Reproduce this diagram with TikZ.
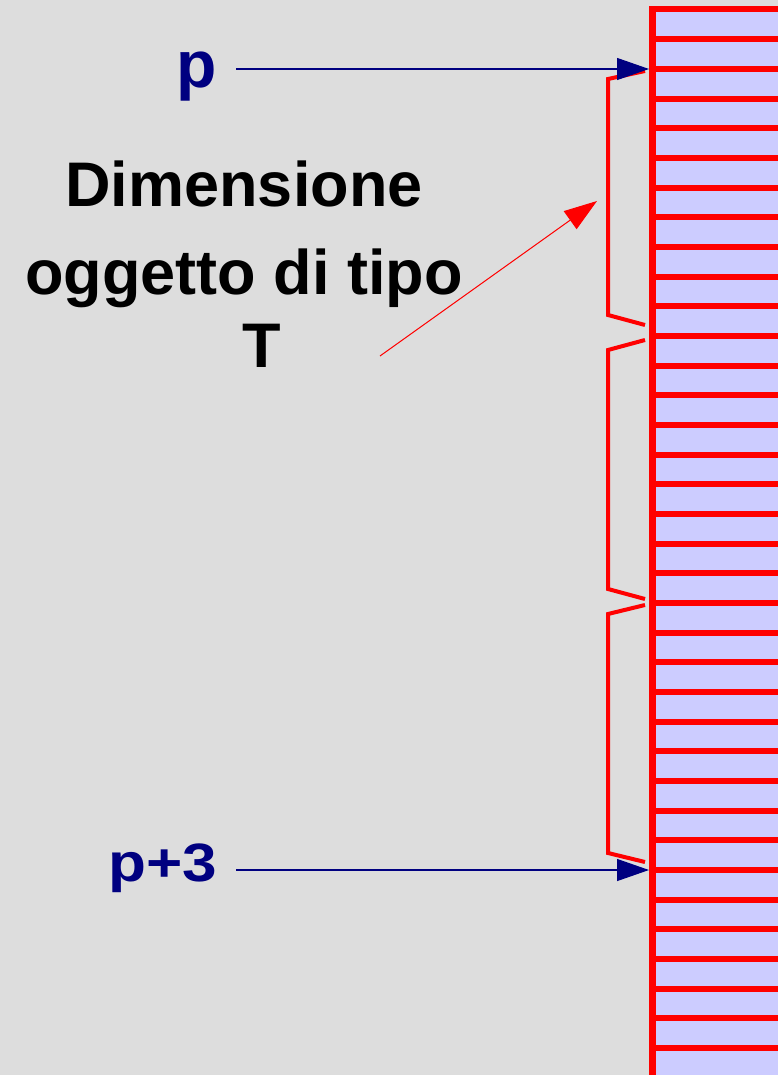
\documentclass[tikz,border=0pt]{standalone}
\usepackage{fontspec}
\setmainfont{Liberation Sans}
\usepackage{graphicx}
\usetikzlibrary{arrows.meta}
\definecolor{slidebg}{RGB}{221,221,221}
\definecolor{cellfill}{RGB}{204,204,255}
\definecolor{ptrblue}{RGB}{0,0,128}
\definecolor{memred}{RGB}{255,0,0}

\begin{document}
\begin{tikzpicture}[x=1pt, y=-1pt,
    ptr/.style={ptrblue, line width=1.2pt, -{Triangle[length=32pt, width=22pt]}},
    sizearrow/.style={memred, line width=1pt, -{Triangle[length=33pt, width=22pt]}},
    objbrace/.style={memred, line width=4pt, line join=miter},
    ptrlabel/.style={text=ptrblue, inner sep=0pt, anchor=base east}]

    % sfondo
    \fill[slidebg] (0,0) rectangle (778,1075);
    \useasboundingbox (0,0) rectangle (778,1075);

    % celle di memoria
    \begin{scope}
        \clip (0,0) rectangle (778,1075);
        \fill[cellfill] (652,9.5) rectangle (800,1090);
        \foreach \i in {0,...,36} {
            \draw[memred, line width=6pt] (649.3,9.5+29.67*\i) -- (800,9.5+29.67*\i);
        }
        \draw[memred, line width=6.5pt] (652.6,6.5) -- (652.6,1090);
    \end{scope}

    % graffe (un oggetto = 9 celle)
    \foreach \ya/\yb/\yc/\yd in {71/79/315/325, 340/350/589/599, 605/614/853/862} {
        \draw[objbrace] (645,\ya) -- (608,\yb) -- (608,\yc) -- (645,\yd);
    }

    % puntatori
    \coordinate (ptrp) at (649,69);
    \coordinate (ptrp3) at (649,870);
    \node[ptrlabel, font=\bfseries\fontsize{66}{70}\selectfont] (lblp) at (217,88) {p};
    \node[ptrlabel, font=\bfseries\fontsize{54}{60}\selectfont] (lblp3) at (217,881) {\scalebox{1.15}[1]{p+3}};
    \draw[ptr, shorten <=19pt] (lblp.east |- ptrp) -- (ptrp);
    \draw[ptr, shorten <=19pt] (lblp3.east |- ptrp3) -- (ptrp3);

    % dimensione dell'oggetto
    \node[font=\bfseries\fontsize{63}{88}\selectfont, align=center, inner sep=0pt, anchor=north]
        (dimtext) at (244,161) {Dimensione\\oggetto di tipo\\[-15pt]\hspace*{36pt}T};
    \coordinate (sizetail) at (380,356);
    \coordinate (sizehead) at (597,201);
    \draw[sizearrow] (sizetail) -- (sizehead);

\end{tikzpicture}
\end{document}
